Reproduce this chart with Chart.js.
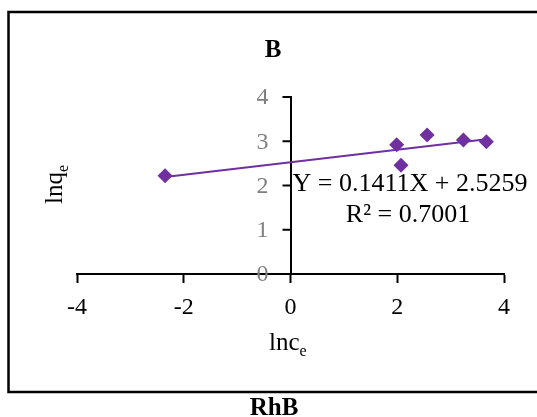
<!DOCTYPE html>
<html>
<head>
<meta charset="utf-8">
<script src="https://cdn.jsdelivr.net/npm/chart.js@4.4.1/dist/chart.umd.min.js"></script>
<style>
  html, body { margin: 0; padding: 0; background: #fff; }
  #wrap { width: 537px; height: 417px; position: relative; }
</style>
</head>
<body>
<div id="wrap"><canvas id="c"></canvas></div>
<script>
// Freundlich isotherm, RhB: ln(ce) vs ln(qe)
const lnCe = [-2.35, 1.99, 2.07, 2.56, 3.24, 3.67];
const lnQe = [2.22, 2.92, 2.46, 3.14, 3.03, 2.99];

// fitted trendline
const slope = 0.1411;
const intercept = 2.5259;
const rSquared = 0.7001;

// axis ranges and tick steps
const xRange = [-4, 4];
const yRange = [0, 4];
const xStep = 2;
const yStep = 1;

const panelTitle = 'B';
const figureLabel = 'RhB';

const serif = "'Liberation Serif', 'Times New Roman', serif";
const purple = '#7030A0';
const tickFont = 24;

const points = lnCe.map((x, i) => ({ x: x, y: lnQe[i] }));
const xLo = Math.min(...lnCe);
const xHi = Math.max(...lnCe);
const trendPoints = [xLo, xHi].map(x => ({ x: x, y: slope * x + intercept }));

// text with a subscript, starting at (x, y) on the alphabetic baseline
function subText(ctx, main, sub, x, y, size, subSize, drop) {
  ctx.font = size + 'px ' + serif;
  ctx.textAlign = 'left';
  ctx.textBaseline = 'alphabetic';
  ctx.fillText(main, x, y);
  const w = ctx.measureText(main).width;
  ctx.font = subSize + 'px ' + serif;
  ctx.fillText(sub, x + w, y + drop);
}

// the y axis sits at x = 0, so its tick marks and labels are laid out here
const yAxisMarks = {
  id: 'yAxisMarks',
  afterDatasetsDraw(chart) {
    const ctx = chart.ctx;
    const ys = chart.scales.y;
    const axisX = chart.scales.x.getPixelForValue(0);
    ctx.save();
    ctx.strokeStyle = '#000';
    ctx.lineWidth = 2;
    ctx.fillStyle = '#808080';
    ctx.font = tickFont + 'px ' + serif;
    ctx.textAlign = 'right';
    ctx.textBaseline = 'middle';
    ys.ticks.forEach(t => {
      const py = ys.getPixelForValue(t.value);
      ctx.beginPath();
      ctx.moveTo(axisX - 8, py);
      ctx.lineTo(axisX, py);
      ctx.stroke();
      ctx.fillText(String(t.value), axisX - 22, py + 1);
    });
    ctx.restore();
  }
};

const decor = {
  id: 'decor',
  afterDraw(chart) {
    const ctx = chart.ctx;
    ctx.save();
    ctx.fillStyle = '#000';

    // outer frame
    ctx.strokeStyle = '#000';
    ctx.lineWidth = 2.5;
    ctx.strokeRect(8.5, 12, 560, 380);

    // panel title
    ctx.font = 'bold 25px ' + serif;
    ctx.textAlign = 'center';
    ctx.textBaseline = 'alphabetic';
    ctx.fillText(panelTitle, 273, 57);

    // axis titles
    subText(ctx, 'lnc', 'e', 269, 350, 25, 16, 6);
    ctx.save();
    ctx.translate(62, 204);
    ctx.rotate(-Math.PI / 2);
    subText(ctx, 'lnq', 'e', 0, 0, 25, 16, 6);
    ctx.restore();

    // trendline equation
    ctx.font = '26px ' + serif;
    ctx.textAlign = 'center';
    ctx.textBaseline = 'alphabetic';
    ctx.fillText('Y = ' + slope.toFixed(4) + 'X + ' + intercept.toFixed(4), 410, 191);
    ctx.fillText('R\u00B2 = ' + rSquared.toFixed(4), 408, 222);

    // figure label below the frame
    ctx.font = 'bold 25px ' + serif;
    ctx.fillText(figureLabel, 274, 415);
    ctx.restore();
  }
};

const axisBorder = { display: true, color: '#000', width: 2 };

new Chart(document.getElementById('c'), {
  type: 'scatter',
  data: {
    datasets: [
      {
        label: 'lnqe',
        data: points,
        pointStyle: 'rectRot',
        pointRadius: 7.5,
        pointHoverRadius: 7.5,
        backgroundColor: purple,
        borderColor: purple,
        borderWidth: 0
      },
      {
        type: 'line',
        label: 'trend',
        data: trendPoints,
        borderColor: purple,
        borderWidth: 2,
        pointRadius: 0,
        fill: false,
        showLine: true
      }
    ]
  },
  options: {
    responsive: true,
    maintainAspectRatio: false,
    animation: false,
    layout: { padding: { left: 77, right: 33, top: 97, bottom: 143 } },
    plugins: {
      legend: { display: false },
      tooltip: { enabled: false },
      title: { display: false }
    },
    scales: {
      x: {
        type: 'linear',
        position: { y: 0 },
        min: xRange[0],
        max: xRange[1],
        ticks: { stepSize: xStep, color: '#000', font: { family: serif, size: tickFont }, padding: 11 },
        grid: { drawOnChartArea: false, drawTicks: true, tickLength: 8, tickColor: '#000', tickWidth: 2, color: '#000' },
        border: axisBorder
      },
      y: {
        type: 'linear',
        position: { x: 0 },
        min: yRange[0],
        max: yRange[1],
        ticks: { stepSize: yStep, display: false },
        grid: { drawOnChartArea: false, drawTicks: false },
        border: axisBorder
      }
    }
  },
  plugins: [yAxisMarks, decor]
});
</script>
</body>
</html>
